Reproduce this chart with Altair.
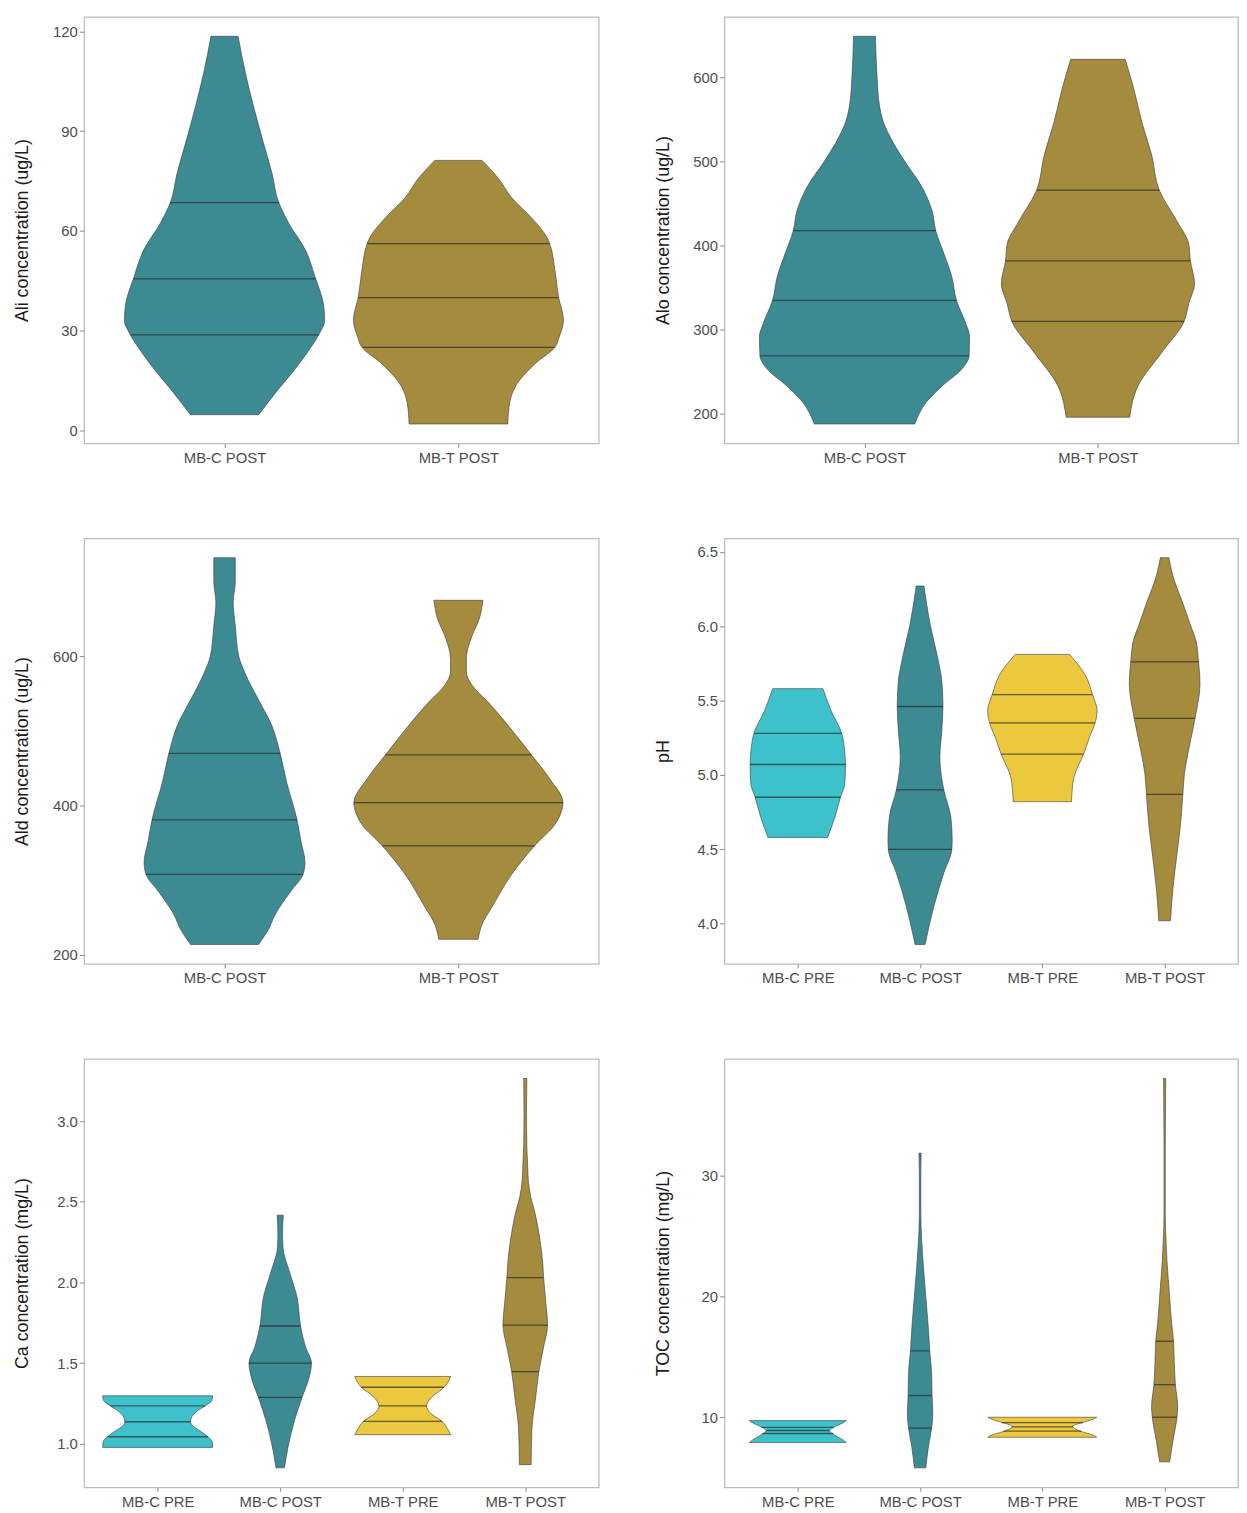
import altair as alt
import numpy as np
import pandas as pd

FONT = "Liberation Sans"

CATS2 = ["MB-C POST", "MB-T POST"]
CATS4 = ["MB-C PRE", "MB-C POST", "MB-T PRE", "MB-T POST"]
FILL = {"MB-C PRE": "#3DC1CB", "MB-C POST": "#3D8B92",
        "MB-T PRE": "#ECC83E", "MB-T POST": "#A58B3D"}

# ---- Ali (ug/L): outline values, half-widths (category units), quartiles
ALI_C_Y = [118.5, 107.2, 97.2, 87.3, 77.3, 68.9, 62.4, 54.4, 46, 37.6, 33, 29.1, 22.6, 17.5, 12.6, 4.8]
ALI_C_W = [0.058, 0.090, 0.125, 0.163, 0.203, 0.230, 0.274, 0.345, 0.388, 0.424, 0.428, 0.405, 0.345, 0.290, 0.232, 0.146]
ALI_C_Q = [28.8, 45.6, 68.5]
ALI_T_Y = [81.2, 76, 70, 64, 58, 56, 48, 40.2, 33.2, 28, 25.3, 20.3, 13.4, 8.4, 2]
ALI_T_W = [0.101, 0.169, 0.228, 0.312, 0.379, 0.391, 0.413, 0.428, 0.449, 0.430, 0.415, 0.331, 0.245, 0.219, 0.211]
ALI_T_Q = [25.0, 40.0, 56.2]

# ---- Alo (ug/L)
ALO_C_Y = [649, 600, 567, 547, 527, 500, 469, 441, 418, 390, 363, 335, 308, 292, 269, 253, 233, 214, 188]
ALO_C_W = [0.047, 0.054, 0.064, 0.081, 0.114, 0.173, 0.248, 0.290, 0.305, 0.341, 0.374, 0.394, 0.433, 0.450, 0.448, 0.416, 0.332, 0.265, 0.215]
ALO_C_Q = [269, 335, 418]
ALO_T_Y = [621.6, 586, 547, 508, 466, 429, 402, 382, 355, 331, 310, 272.5, 233, 196]
ALO_T_W = [0.117, 0.154, 0.188, 0.230, 0.263, 0.339, 0.389, 0.396, 0.414, 0.389, 0.369, 0.272, 0.171, 0.136]
ALO_T_Q = [310, 382, 466]

# ---- Ald (ug/L)
ALD_C_Y = [732, 700, 672, 641, 600, 575, 539, 508, 470, 432, 381, 352, 324, 308, 286, 255, 232, 214]
ALD_C_W = [0.046, 0.046, 0.037, 0.046, 0.061, 0.091, 0.150, 0.201, 0.238, 0.265, 0.310, 0.327, 0.344, 0.336, 0.285, 0.218, 0.184, 0.145]
ALD_C_Q = [308, 381, 470]
ALD_T_Y = [675, 650, 628, 597, 579, 561, 539, 508, 468, 437, 404, 375, 346, 308, 264, 241, 221]
ALD_T_W = [0.105, 0.089, 0.059, 0.034, 0.034, 0.059, 0.126, 0.211, 0.312, 0.388, 0.447, 0.413, 0.325, 0.228, 0.143, 0.101, 0.084]
ALD_T_Q = [346, 404, 468]

# ---- pH
PH_CPRE_Y = [5.58, 5.43, 5.28, 5.12, 5.07, 4.94, 4.85, 4.72, 4.58]
PH_CPRE_W = [0.206, 0.273, 0.359, 0.387, 0.390, 0.384, 0.349, 0.305, 0.244]
PH_CPRE_Q = [4.85, 5.07, 5.28]
PH_CPOST_Y = [6.27, 6.01, 5.78, 5.63, 5.46, 5.30, 5.12, 4.90, 4.72, 4.56, 4.50, 4.34, 4.12, 3.86]
PH_CPOST_W = [0.032, 0.083, 0.146, 0.178, 0.187, 0.178, 0.162, 0.194, 0.251, 0.263, 0.260, 0.194, 0.114, 0.041]
PH_CPOST_Q = [4.50, 4.90, 5.46]
PH_TPRE_Y = [5.81, 5.67, 5.54, 5.43, 5.36, 5.25, 5.14, 4.98, 4.82]
PH_TPRE_W = [0.222, 0.352, 0.410, 0.448, 0.435, 0.384, 0.337, 0.257, 0.238]
PH_TPRE_Q = [5.14, 5.35, 5.54]
PH_TPOST_Y = [6.46, 6.34, 6.16, 6.01, 5.90, 5.77, 5.61, 5.39, 5.16, 5.01, 4.87, 4.67, 4.45, 4.23, 4.02]
PH_TPOST_W = [0.035, 0.067, 0.146, 0.210, 0.257, 0.276, 0.289, 0.251, 0.194, 0.162, 0.149, 0.130, 0.098, 0.067, 0.048]
PH_TPOST_Q = [4.87, 5.38, 5.76]

# ---- Ca (mg/L)
CA_CPRE_Y = [1.297, 1.27, 1.24, 1.20, 1.16, 1.138, 1.11, 1.08, 1.045, 1.01, 0.977]
CA_CPRE_W = [0.449, 0.443, 0.398, 0.318, 0.274, 0.268, 0.287, 0.344, 0.408, 0.446, 0.449]
CA_CPRE_Q = [1.043, 1.136, 1.235]
CA_CPOST_Y = [2.417, 2.30, 2.22, 2.056, 1.91, 1.73, 1.60, 1.50, 1.40, 1.287, 1.148, 0.98, 0.85]
CA_CPOST_W = [0.025, 0.019, 0.022, 0.080, 0.137, 0.166, 0.207, 0.255, 0.232, 0.178, 0.118, 0.064, 0.035]
CA_CPOST_Q = [1.287, 1.50, 1.73]
CA_TPRE_Y = [1.417, 1.35, 1.293, 1.235, 1.19, 1.138, 1.087, 1.056]
CA_TPRE_W = [0.392, 0.338, 0.242, 0.194, 0.226, 0.322, 0.369, 0.392]
CA_TPRE_Q = [1.138, 1.235, 1.35]
CA_TPOST_Y = [3.266, 3.05, 2.84, 2.74, 2.633, 2.53, 2.43, 2.26, 2.117, 2.03, 1.89, 1.736, 1.60, 1.447, 1.293, 1.087, 0.87]
CA_TPOST_W = [0.013, 0.010, 0.013, 0.019, 0.025, 0.045, 0.080, 0.121, 0.143, 0.150, 0.166, 0.182, 0.150, 0.111, 0.086, 0.054, 0.048]
CA_TPOST_Q = [1.447, 1.736, 2.03]

# ---- TOC (mg/L)
TOC_CPRE_Y = [9.72, 9.55, 9.23, 8.9, 8.4, 8.1, 7.9]
TOC_CPRE_W = [0.397, 0.372, 0.306, 0.259, 0.322, 0.372, 0.397]
TOC_CPRE_Q = [8.65, 8.9, 9.15]
TOC_CPOST_Y = [31.9, 30.2, 27, 24.7, 22.8, 20, 17.2, 15.5, 13.6, 11.8, 10.3, 9.1, 7.6, 5.8]
TOC_CPOST_W = [0.009, 0.006, 0.006, 0.013, 0.025, 0.047, 0.069, 0.079, 0.095, 0.098, 0.104, 0.095, 0.069, 0.047]
TOC_CPOST_Q = [9.1, 11.8, 15.5]
TOC_TPRE_Y = [10.0, 9.85, 9.64, 9.23, 8.8, 8.5, 8.34]
TOC_TPRE_W = [0.445, 0.420, 0.356, 0.246, 0.325, 0.420, 0.445]
TOC_TPRE_Q = [8.85, 9.2, 9.55]
TOC_TPOST_Y = [38.1, 36.6, 32.4, 26.9, 25.2, 23, 20, 17.8, 16.3, 14.5, 12.7, 10.9, 10.0, 8.1, 6.3]
TOC_TPOST_W = [0.009, 0.008, 0.005, 0.005, 0.009, 0.019, 0.041, 0.057, 0.073, 0.079, 0.088, 0.107, 0.101, 0.069, 0.041]
TOC_TPOST_Q = [10.0, 12.7, 16.3]

ALI_TICKS = [0, 30, 60, 90, 120]
ALO_TICKS = [200, 300, 400, 500, 600]
ALD_TICKS = [200, 400, 600]
PH_TICKS = [4.0, 4.5, 5.0, 5.5, 6.0, 6.5]
CA_TICKS = [1.0, 1.5, 2.0, 2.5, 3.0]
TOC_TICKS = [10, 20, 30]


def panel(cats, violins, ytitle, yticks, fmt, w, h):
    area_rows, rule_rows = [], []
    for cat, ys, ws, qs in violins:
        idx = cats.index(cat) + 1
        order = np.argsort(ys)
        ys_s = np.asarray(ys, float)[order]
        ws_s = np.asarray(ws, float)[order]
        for yv, wv in zip(ys_s, ws_s):
            area_rows.append({"cat": cat, "fill": FILL[cat], "y": yv, "lo": idx - wv, "hi": idx + wv})
        for q in qs:
            wq = float(np.interp(q, ys_s, ws_s))
            rule_rows.append({"cat": cat, "y": q, "lo": idx - wq, "hi": idx + wq})
    adf = pd.DataFrame(area_rows)
    rdf = pd.DataFrame(rule_rows)
    ymin, ymax = adf["y"].min(), adf["y"].max()
    pad = 0.05 * (ymax - ymin)
    n = len(cats)
    xscale = alt.Scale(domain=[0.4, n + 0.6], nice=False, zero=False)
    yscale = alt.Scale(domain=[ymin - pad, ymax + pad], nice=False, zero=False)
    label_expr = "[" + ",".join("'%s'" % c for c in cats) + "][datum.value - 1]"
    xaxis = alt.Axis(values=list(range(1, n + 1)), labelExpr=label_expr, title=None)
    yaxis = alt.Axis(values=yticks, format=fmt, title=ytitle)
    area = alt.Chart(adf).mark_area(
        orient="horizontal", interpolate="monotone",
        stroke="#3a3a3a", strokeWidth=0.6, opacity=1
    ).encode(
        y=alt.Y("y:Q", scale=yscale, axis=yaxis),
        x=alt.X("lo:Q", scale=xscale, axis=xaxis, stack=None),
        x2="hi:Q",
        fill=alt.Fill("fill:N", scale=None),
        detail="cat:N",
    )
    rules = alt.Chart(rdf).mark_rule(color="#2b2b2b", strokeWidth=1.3, opacity=0.7).encode(
        y=alt.Y("y:Q", scale=yscale),
        x=alt.X("lo:Q", scale=xscale),
        x2="hi:Q",
    )
    return alt.layer(area, rules).properties(width=w, height=h)


pA = panel(CATS2, [("MB-C POST", ALI_C_Y, ALI_C_W, ALI_C_Q), ("MB-T POST", ALI_T_Y, ALI_T_W, ALI_T_Q)],
           "Ali concentration (ug/L)", ALI_TICKS, "d", 520, 431)
pB = panel(CATS2, [("MB-C POST", ALO_C_Y, ALO_C_W, ALO_C_Q), ("MB-T POST", ALO_T_Y, ALO_T_W, ALO_T_Q)],
           "Alo concentration (ug/L)", ALO_TICKS, "d", 519, 431)
pC = panel(CATS2, [("MB-C POST", ALD_C_Y, ALD_C_W, ALD_C_Q), ("MB-T POST", ALD_T_Y, ALD_T_W, ALD_T_Q)],
           "Ald concentration (ug/L)", ALD_TICKS, "d", 520, 430)
pD = panel(CATS4, [("MB-C PRE", PH_CPRE_Y, PH_CPRE_W, PH_CPRE_Q), ("MB-C POST", PH_CPOST_Y, PH_CPOST_W, PH_CPOST_Q),
                   ("MB-T PRE", PH_TPRE_Y, PH_TPRE_W, PH_TPRE_Q), ("MB-T POST", PH_TPOST_Y, PH_TPOST_W, PH_TPOST_Q)],
           "pH", PH_TICKS, ".1f", 519, 430)
pE = panel(CATS4, [("MB-C PRE", CA_CPRE_Y, CA_CPRE_W, CA_CPRE_Q), ("MB-C POST", CA_CPOST_Y, CA_CPOST_W, CA_CPOST_Q),
                   ("MB-T PRE", CA_TPRE_Y, CA_TPRE_W, CA_TPRE_Q), ("MB-T POST", CA_TPOST_Y, CA_TPOST_W, CA_TPOST_Q)],
           "Ca concentration (mg/L)", CA_TICKS, ".1f", 520, 433)
pF = panel(CATS4, [("MB-C PRE", TOC_CPRE_Y, TOC_CPRE_W, TOC_CPRE_Q), ("MB-C POST", TOC_CPOST_Y, TOC_CPOST_W, TOC_CPOST_Q),
                   ("MB-T PRE", TOC_TPRE_Y, TOC_TPRE_W, TOC_TPRE_Q), ("MB-T POST", TOC_TPOST_Y, TOC_TPOST_W, TOC_TPOST_Q)],
           "TOC concentration (mg/L)", TOC_TICKS, "d", 519, 433)

row1 = alt.hconcat(pA, pB, spacing=54)
row2 = alt.hconcat(pC, pD, spacing=54)
row3 = alt.hconcat(pE, pF, spacing=54)

chart = alt.vconcat(row1, row2, row3, spacing=72).properties(
    padding={"left": 5, "top": 0, "right": 0, "bottom": 0}
).configure_view(
    stroke="#BDBDBD", strokeWidth=1.3
).configure_axis(
    grid=False, domain=False, tickColor="#8a8a8a", tickWidth=1,
    labelFont=FONT, titleFont=FONT, labelColor="#4d4d4d", labelFontSize=15,
    titleFontSize=18, titleColor="#1a1a1a", titleFontWeight="normal"
).configure_axisY(
    tickSize=5, labelPadding=2, minExtent=51, maxExtent=51, titlePadding=2
).configure_axisX(
    tickSize=4, labelPadding=3
)

chart.save("out.html", embed_options={"renderer": "svg", "actions": False})
